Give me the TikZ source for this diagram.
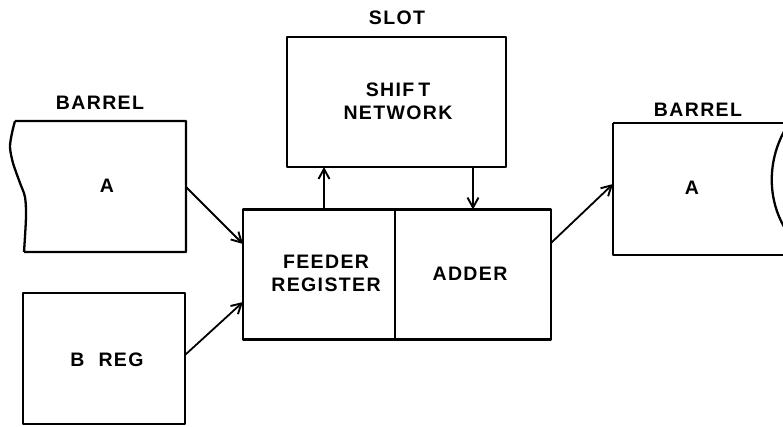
\documentclass[tikz,border=0pt]{standalone}
\usepackage{fontspec}
\setmainfont{Liberation Sans}
\newfontfamily\lbl{Liberation Sans}[LetterSpace=7]
\usetikzlibrary{arrows.meta}
\begin{document}
\begin{tikzpicture}[x=1pt,y=-1pt,
  line width=2.3pt, line join=round,
  box/.style={draw, rectangle, inner sep=0pt, outer sep=0pt, align=center},
  txt/.style={inner sep=0pt, align=center, font=\lbl\bfseries\fontsize{19.5}{23}\selectfont},
  arr/.style={line width=1.8pt, -{Straight Barb[length=10pt,width=11pt,line width=1.9pt]}}]
\useasboundingbox (0,0) rectangle (783,426);
% left barrel
\draw (15,121) -- (186,121) -- (186,252) -- (24,252)
  plot[smooth] coordinates {(24,252) (26,217) (25,197) (20,183) (13,163) (10,147) (12,133) (15,121)};
\node[txt] (barrelLlbl) at (100,103) {BARREL};
\node[txt] (aL) at (107,186) {A};
\coordinate (aLout) at (186,187);
% right barrel
\draw (613,123) -- (790,123);
\draw (613,123) -- (613,255) -- (790,255);
\draw (786,128) .. controls (767,160) and (767,200) .. (786,230);
\node[txt] (barrelRlbl) at (698,110) {BARREL};
\node[txt] (aR) at (692,188) {A};
\coordinate (aRin) at (613,184);
% slot
\node[txt] (slot) at (397,18) {SLOT};
\node[box, minimum width=219pt, minimum height=130pt] (shift) at (396.5,102) {};
\node[txt] (shifttxt) at (398,101.5) {SHIF\hspace{4pt}T\\NETWORK};
% feeder and adder
\node[box, minimum width=152pt, minimum height=130pt] (feeder) at (319,274.5) {};
\node[txt] (feedertxt) at (326,273) {FEEDER\\REGISTER};
\node[box, minimum width=156pt, minimum height=130pt, anchor=west] (adder) at (feeder.east) {};
\node[txt] (addertxt) at (470,274) {ADDER};
% B reg
\node[box, minimum width=162pt, minimum height=131pt] (breg) at (104,358.5) {};
\node[txt] (bregtxt) at (107,360) {B\hspace{14pt}REG};
% connector points
\coordinate (fin1) at (243,244);
\coordinate (fin2) at (243,302);
\coordinate (bout) at (185,355);
\coordinate (upx) at (324,0);
\coordinate (aout) at (551,243);
\draw[arr] (aLout) -- (fin1);
\draw[arr] (bout) -- (fin2);
\draw[arr] (feeder.north -| upx) -- (shift.south -| upx);
\draw[arr] (shift.south -| adder.north) -- (adder.north);
\draw[arr] (aout) -- (aRin);
\end{tikzpicture}
\end{document}
